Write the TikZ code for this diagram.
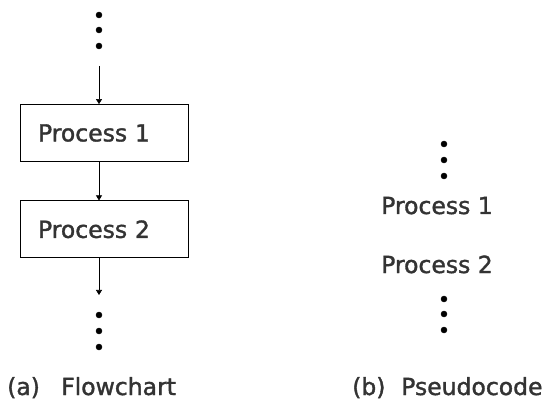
\documentclass[tikz,border=0pt]{standalone}
\usepackage{fontspec}
\setmainfont{DejaVu Sans}
\newfontfamily\lblfont{DejaVu Sans}[FakeBold=1.5]
\usetikzlibrary{arrows.meta}
\begin{document}
\begin{tikzpicture}[x=1pt,y=-1pt,
	lbl/.style={text=black!80, inner sep=0pt, font=\lblfont\fontsize{23.5}{28}\selectfont},
	box/.style={lbl, draw=black, line width=0.8pt, minimum height=57pt, text width=132pt, inner xsep=18pt, align=left},
	flow/.style={-{Triangle[length=5pt,width=6pt]}, line width=0.6pt}]
\useasboundingbox (0,0) rectangle (555,401);
% flowchart
\foreach \y in {15,30,46}
	\filldraw (99,\y) circle (3pt);
\coordinate (fctop) at (99,66);
\node[box] (proc1) at (104,133) {Process 1};
\node[box] (proc2) at (104,229.3) {Process 2};
\coordinate (fcbot) at (99,295);
\draw[flow] (fctop) -- (fctop |- proc1.north);
\draw[flow] (proc1.south -| fctop) -- (proc2.north -| fctop);
\draw[flow] (proc2.south -| fctop) -- (fcbot);
\foreach \y in {315,331,347}
	\filldraw (99,\y) circle (3pt);
% pseudocode
\foreach \y in {144,160,176}
	\filldraw (444,\y) circle (3pt);
\node[lbl,anchor=base west] (code1) at (381,214) {Process 1};
\node[lbl,anchor=base west] (code2) at (381,273) {Process 2};
\foreach \y in {299,314,330}
	\filldraw (444,\y) circle (3pt);
% captions
\node[lbl,anchor=base west] (capa) at (7,395) {(a)};
\node[lbl,anchor=base west] (capatext) at (61,395) {Flowchart};
\node[lbl,anchor=base west] (capb) at (352,395) {(b)};
\node[lbl,anchor=base west] (capbtext) at (401,395) {Pseudocode};
\end{tikzpicture}
\end{document}
